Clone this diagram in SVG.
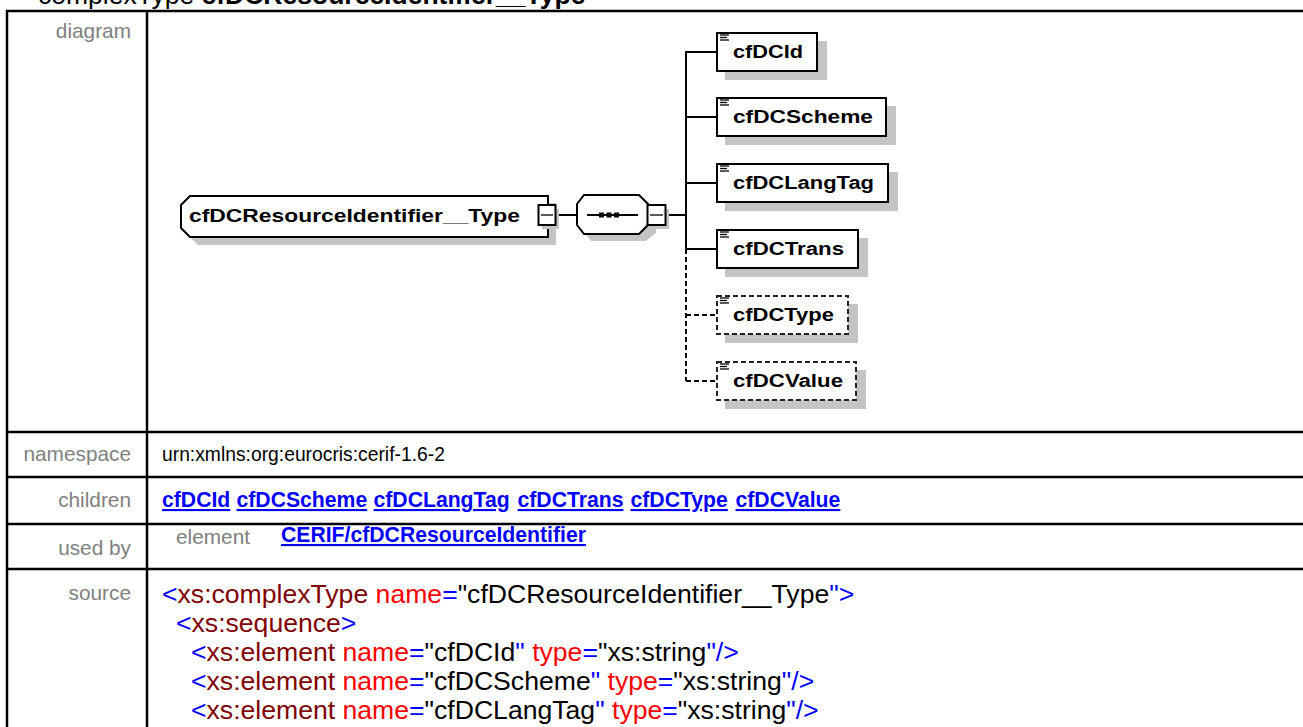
<svg xmlns="http://www.w3.org/2000/svg" width="1303" height="727" viewBox="0 0 1303 727">
<style>
.lbl{font-family:"Liberation Sans",Arial,sans-serif;font-size:20.8px;fill:#808080}
.val{font-family:"Liberation Sans",Arial,sans-serif;font-size:19.3px;fill:#000}
.lnk{font-family:"Liberation Sans",Arial,sans-serif;font-size:21.2px;font-weight:bold;fill:#0000ff;text-decoration:underline}
.src{font-family:"Liberation Sans",Arial,sans-serif;font-size:26.6px;fill:#000}
.b{fill:#0000ff}.e{fill:#800000}.a{fill:#ff0000}.v{fill:#000}
.nt{font-family:"Liberation Sans",Arial,sans-serif;font-size:17.5px;font-weight:bold;fill:#000}
.box{fill:#fff;stroke:#000;stroke-width:2}
.dbox{fill:#fff;stroke:#222;stroke-width:2;stroke-dasharray:5,3}
.sh{fill:#c4c4c4}
.ln{stroke:#000;stroke-width:2;fill:none}
.dln{stroke:#000;stroke-width:2;fill:none;stroke-dasharray:5,3}
.ic{stroke:#000;stroke-width:1.3}
.tb{stroke:#000;stroke-width:2.5}
</style>
<defs>
<g id="icon"><line class="ic" x1="0" y1="0" x2="9" y2="0"/><line class="ic" x1="0" y1="2.5" x2="7" y2="2.5"/><line class="ic" x1="0" y1="5" x2="9" y2="5"/></g>
</defs>
<rect width="1303" height="727" fill="#fff"/>
<text x="38" y="4" style="font-family:'Liberation Sans',Arial,sans-serif;font-size:26.5px;fill:#000">complexType <tspan font-weight="bold">cfDCResourceIdentifier__Type</tspan></text>
<g id="table">
<line class="tb" x1="6" y1="11" x2="1303" y2="11"/>
<line class="tb" x1="7" y1="10" x2="7" y2="727"/>
<line class="tb" x1="147" y1="10" x2="147" y2="727"/>
<line class="tb" x1="6" y1="432" x2="1303" y2="432"/>
<line class="tb" x1="6" y1="477" x2="1303" y2="477"/>
<line class="tb" x1="6" y1="524" x2="1303" y2="524"/>
<line class="tb" x1="6" y1="569" x2="1303" y2="569"/>
<text class="lbl" x="131" y="38" text-anchor="end">diagram</text>
<text class="lbl" x="131" y="461" text-anchor="end">namespace</text>
<text class="lbl" x="131" y="507" text-anchor="end">children</text>
<text class="lbl" x="131" y="555" text-anchor="end">used by</text>
<text class="lbl" x="131" y="600" text-anchor="end">source</text>
<text class="val" x="162" y="461">urn:xmlns:org:eurocris:cerif-1.6-2</text>
<text class="lnk" x="162" y="507">cfDCId</text>
<text class="lnk" x="236.5" y="507">cfDCScheme</text>
<text class="lnk" x="373.5" y="507">cfDCLangTag</text>
<text class="lnk" x="517.5" y="507">cfDCTrans</text>
<text class="lnk" x="630.5" y="507">cfDCType</text>
<text class="lnk" x="735.5" y="507">cfDCValue</text>
<text class="lbl" x="176" y="544">element</text>
<text class="lnk" x="281" y="542">CERIF/cfDCResourceIdentifier</text>
<text class="src" x="162" y="603"><tspan class="b">&lt;</tspan><tspan class="e">xs:complexType</tspan> <tspan class="a">name</tspan><tspan class="b">=</tspan><tspan class="v">"cfDCResourceIdentifier__Type</tspan><tspan class="b">"&gt;</tspan></text>
<text class="src" x="176" y="632"><tspan class="b">&lt;</tspan><tspan class="e">xs:sequence</tspan><tspan class="b">&gt;</tspan></text>
<text class="src" x="191" y="661"><tspan class="b">&lt;</tspan><tspan class="e">xs:element</tspan> <tspan class="a">name</tspan><tspan class="b">=</tspan><tspan class="v">"cfDCId</tspan><tspan class="b">"</tspan> <tspan class="a">type</tspan><tspan class="b">=</tspan><tspan class="v">"xs:string</tspan><tspan class="b">"/&gt;</tspan></text>
<text class="src" x="191" y="690"><tspan class="b">&lt;</tspan><tspan class="e">xs:element</tspan> <tspan class="a">name</tspan><tspan class="b">=</tspan><tspan class="v">"cfDCScheme</tspan><tspan class="b">"</tspan> <tspan class="a">type</tspan><tspan class="b">=</tspan><tspan class="v">"xs:string</tspan><tspan class="b">"/&gt;</tspan></text>
<text class="src" x="191" y="719"><tspan class="b">&lt;</tspan><tspan class="e">xs:element</tspan> <tspan class="a">name</tspan><tspan class="b">=</tspan><tspan class="v">"cfDCLangTag</tspan><tspan class="b">"</tspan> <tspan class="a">type</tspan><tspan class="b">=</tspan><tspan class="v">"xs:string</tspan><tspan class="b">"/&gt;</tspan></text>
</g>
<g id="connectors">
<line class="ln" x1="556" y1="215" x2="578" y2="215"/>
<line class="ln" x1="667" y1="215" x2="686" y2="215"/>
<line class="ln" x1="686" y1="51" x2="686" y2="249"/>
<line class="dln" x1="686" y1="249" x2="686" y2="381"/>
<line class="ln" x1="686" y1="52" x2="717" y2="52"/>
<line class="ln" x1="686" y1="117" x2="717" y2="117"/>
<line class="ln" x1="686" y1="183" x2="717" y2="183"/>
<line class="ln" x1="686" y1="249" x2="717" y2="249"/>
<line class="dln" x1="686" y1="315" x2="717" y2="315"/>
<line class="dln" x1="686" y1="381" x2="717" y2="381"/>
</g>
<g id="node-main">
<path class="sh" d="M198,203 H556 V245 H198 L189,236 V212 Z"/>
<path class="box" d="M190,196 H548 V237 H190 L181,228 V205 Z"/>
<text class="nt" x="189" y="222" textLength="331" lengthAdjust="spacingAndGlyphs">cfDCResourceIdentifier__Type</text>
<rect class="sh" x="542" y="209" width="17" height="20"/>
<rect x="538.5" y="205" width="17" height="20" fill="#fff" stroke="#000" stroke-width="2"/>
<line class="ic" x1="541" y1="215" x2="553" y2="215"/>
</g>
<g id="node-sequence">
<path class="sh" d="M591,203 H646 L656,213 V233 L646,241 H591 L585,233 V213 Z"/>
<path class="box" d="M584,195 H639 L648,204 V225 L639,234 H584 L577,225 V204 Z"/>
<line class="ln" x1="587" y1="215" x2="638" y2="215" stroke-width="1.5"/>
<rect x="599" y="212.5" width="5" height="5" fill="#000"/>
<rect x="606.5" y="212.5" width="5" height="5" fill="#000"/>
<rect x="614" y="212.5" width="5" height="5" fill="#000"/>
<rect class="sh" x="651" y="209" width="18" height="20"/>
<rect x="647.5" y="205" width="18" height="20" fill="#fff" stroke="#000" stroke-width="2"/>
<line class="ic" x1="650" y1="215" x2="663" y2="215"/>
</g>
<g id="node-cfDCId">
<rect class="sh" x="725" y="41" width="102" height="39"/>
<rect class="box" x="717" y="33" width="100" height="38"/>
<use href="#icon" x="720" y="35"/>
<text class="nt" x="733" y="58" textLength="70" lengthAdjust="spacingAndGlyphs">cfDCId</text>
</g>
<g id="node-cfDCScheme">
<rect class="sh" x="725" y="106" width="171" height="39"/>
<rect class="box" x="717" y="98" width="169" height="38"/>
<use href="#icon" x="720" y="100"/>
<text class="nt" x="733" y="123" textLength="140" lengthAdjust="spacingAndGlyphs">cfDCScheme</text>
</g>
<g id="node-cfDCLangTag">
<rect class="sh" x="725" y="172" width="173" height="39"/>
<rect class="box" x="717" y="164" width="171" height="38"/>
<use href="#icon" x="720" y="166"/>
<text class="nt" x="733" y="189" textLength="141" lengthAdjust="spacingAndGlyphs">cfDCLangTag</text>
</g>
<g id="node-cfDCTrans">
<rect class="sh" x="725" y="238" width="143" height="39"/>
<rect class="box" x="717" y="230" width="141" height="38"/>
<use href="#icon" x="720" y="232"/>
<text class="nt" x="733" y="255" textLength="111" lengthAdjust="spacingAndGlyphs">cfDCTrans</text>
</g>
<g id="node-cfDCType">
<rect class="sh" x="725" y="304" width="133" height="39"/>
<rect class="dbox" x="717" y="296" width="131" height="38"/>
<use href="#icon" x="720" y="298"/>
<text class="nt" x="733" y="321" textLength="101" lengthAdjust="spacingAndGlyphs">cfDCType</text>
</g>
<g id="node-cfDCValue">
<rect class="sh" x="725" y="370" width="141" height="39"/>
<rect class="dbox" x="717" y="362" width="139" height="38"/>
<use href="#icon" x="720" y="364"/>
<text class="nt" x="733" y="387" textLength="110" lengthAdjust="spacingAndGlyphs">cfDCValue</text>
</g>
</svg>
